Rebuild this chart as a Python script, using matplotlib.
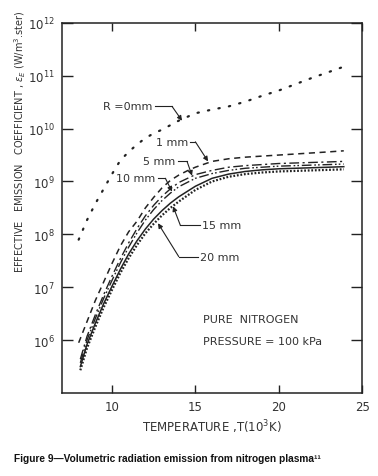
import numpy as np
import matplotlib
matplotlib.use('Agg')
import matplotlib.pyplot as plt

# temperature grid (10^3 K) and log10 of emission coefficient
T_r0 = [8.0, 8.5, 9.0, 9.5, 10, 10.5, 11, 11.5, 12, 12.5, 13, 14, 15, 16, 17, 18, 19, 20, 21, 22, 23, 23.8]
log_r0 = [7.9, 8.27, 8.58, 8.86, 9.14, 9.40, 9.56, 9.70, 9.82, 9.91, 9.98, 10.15, 10.29, 10.36, 10.42, 10.51,
          10.62, 10.72, 10.84, 10.96, 11.07, 11.16]

T_r1 = [8.0, 8.5, 9.0, 9.5, 10, 10.5, 11, 11.5, 12, 12.5, 13, 13.5, 14, 14.5, 15, 16, 17, 18, 19, 20, 21, 22, 23, 23.9]
log_r1 = [5.95, 6.35, 6.75, 7.10, 7.45, 7.78, 8.05, 8.25, 8.50, 8.70, 8.88, 9.02, 9.12, 9.20, 9.27, 9.38, 9.43,
          9.46, 9.48, 9.50, 9.52, 9.54, 9.56, 9.58]

T = [8.1, 8.5, 9, 9.5, 10, 10.5, 11, 11.5, 12, 12.5, 13, 13.5, 14, 15, 16, 17, 18, 19, 20, 21, 22, 23, 23.9]
log_r5 = [5.64, 6.07, 6.48, 6.86, 7.21, 7.54, 7.84, 8.11, 8.35, 8.55, 8.72, 8.86, 8.98, 9.13, 9.21, 9.27, 9.30,
          9.32, 9.34, 9.35, 9.36, 9.37, 9.38]
log_r10 = [5.57, 6.00, 6.41, 6.79, 7.13, 7.46, 7.76, 8.03, 8.27, 8.47, 8.64, 8.78, 8.90, 9.06, 9.15, 9.21, 9.25,
           9.27, 9.29, 9.30, 9.31, 9.32, 9.33]
log_r15 = [5.50, 5.92, 6.32, 6.69, 7.02, 7.34, 7.63, 7.88, 8.10, 8.29, 8.45, 8.59, 8.71, 8.91, 9.06, 9.14, 9.19,
           9.22, 9.24, 9.25, 9.26, 9.27, 9.28]
log_r20 = [5.43, 5.85, 6.25, 6.62, 6.95, 7.27, 7.55, 7.80, 8.02, 8.20, 8.36, 8.50, 8.62, 8.84, 9.00, 9.09, 9.14,
           9.17, 9.19, 9.20, 9.21, 9.22, 9.23]

x_ticks = [10, 15, 20, 25]
y_ticks = [1e6, 1e7, 1e8, 1e9, 1e10, 1e11, 1e12]

INK = '#222222'
TXT = '#333333'

fig = plt.figure(figsize=(3.78, 4.77), dpi=100)
ax = fig.add_axes([0.164, 0.174, 0.794, 0.776])

ax.plot(T_r0, np.power(10.0, log_r0), color=INK, lw=1.6, ls=(0, (0.6, 4.2)), dash_capstyle='round')
ax.plot(T_r1, np.power(10.0, log_r1), color=INK, lw=1.1, ls=(0, (4, 3)))
ax.plot(T, np.power(10.0, log_r5), color=INK, lw=1.0, ls=(0, (7, 2.5, 1.5, 2.5)))
ax.plot(T, np.power(10.0, log_r10), color=INK, lw=1.0, ls=(0, (7, 2, 1.2, 1.5, 1.2, 2)))
ax.plot(T, np.power(10.0, log_r15), color=INK, lw=1.1)
ax.plot(T, np.power(10.0, log_r20), color=INK, lw=1.6, ls=(0, (0.8, 0.8)))

ax.set_yscale('log')
ax.set_xlim(7, 25)
ax.set_ylim(1e5, 1e12)
ax.set_xticks(x_ticks)
ax.set_xticklabels([str(v) for v in x_ticks])
ax.set_yticks(y_ticks)
ax.set_yticklabels([r'$10^{%d}$' % int(np.log10(v)) for v in y_ticks])
ax.yaxis.set_minor_locator(matplotlib.ticker.NullLocator())
ax.tick_params(which='major', direction='in', length=8, width=1.0, color=INK, labelcolor=TXT,
               labelsize=8.5, top=True, right=True, pad=5)
ax.tick_params(axis='x', length=6)
for s in ax.spines.values():
    s.set_color(INK)
    s.set_linewidth(1.1)

# curve labels with leader arrows
arrow = dict(arrowstyle='-|>', color=INK, lw=0.8, mutation_scale=7, shrinkA=0, shrinkB=0)
lab = dict(fontsize=8, color=TXT, va='center')

def leader(text, text_xy, bend, tip, ha):
    ax.text(text_xy[0], text_xy[1], text, ha=ha, **lab)
    ax.plot([text_xy[0] + (0.15 if ha == 'right' else -0.15), bend[0]], [text_xy[1], text_xy[1]],
            color=INK, lw=0.8)
    ax.annotate('', xy=tip, xytext=(bend[0], text_xy[1]), arrowprops=arrow)

leader('R =0mm', (12.45, 10 ** 10.42), (13.6, 0), (14.2, 10 ** 10.15), 'right')
leader('1 mm', (14.55, 10 ** 9.75), (15.0, 0), (15.76, 10 ** 9.38), 'right')
leader('5 mm', (13.8, 10 ** 9.38), (14.5, 0), (14.8, 10 ** 9.11), 'right')
leader('10 mm', (12.6, 10 ** 9.06), (13.2, 0), (13.6, 10 ** 8.81), 'right')
leader('15 mm', (15.4, 10 ** 8.17), (14.1, 0), (13.66, 10 ** 8.53), 'left')
leader('20 mm', (15.3, 10 ** 7.58), (14.0, 0), (12.76, 10 ** 8.21), 'left')

ax.text(15.45, 10 ** 6.40, 'PURE  NITROGEN', fontsize=8, color=TXT, va='center')
ax.text(15.45, 10 ** 5.98, 'PRESSURE = 100 kPa', fontsize=8, color=TXT, va='center')

fig.text(0.561, 0.105, r'TEMPERATURE ,T(10$^3$K)', fontsize=8.5, color=TXT, ha='center', va='center')
fig.text(0.053, 0.703, r'EFFECTIVE   EMISSION   COEFFICIENT , $\epsilon_E$ (W/m$^3$.ster)',
         fontsize=7.0, color=TXT, rotation=90, ha='center', va='center')
fig.text(0.037, 0.038, 'Figure 9\u2014Volumetric radiation emission from nitrogen plasma\u00b9\u00b9',
         fontsize=7.3, fontweight='bold', family='Liberation Sans', color='#111111', ha='left', va='center')

fig.savefig('out.png', dpi=100)
